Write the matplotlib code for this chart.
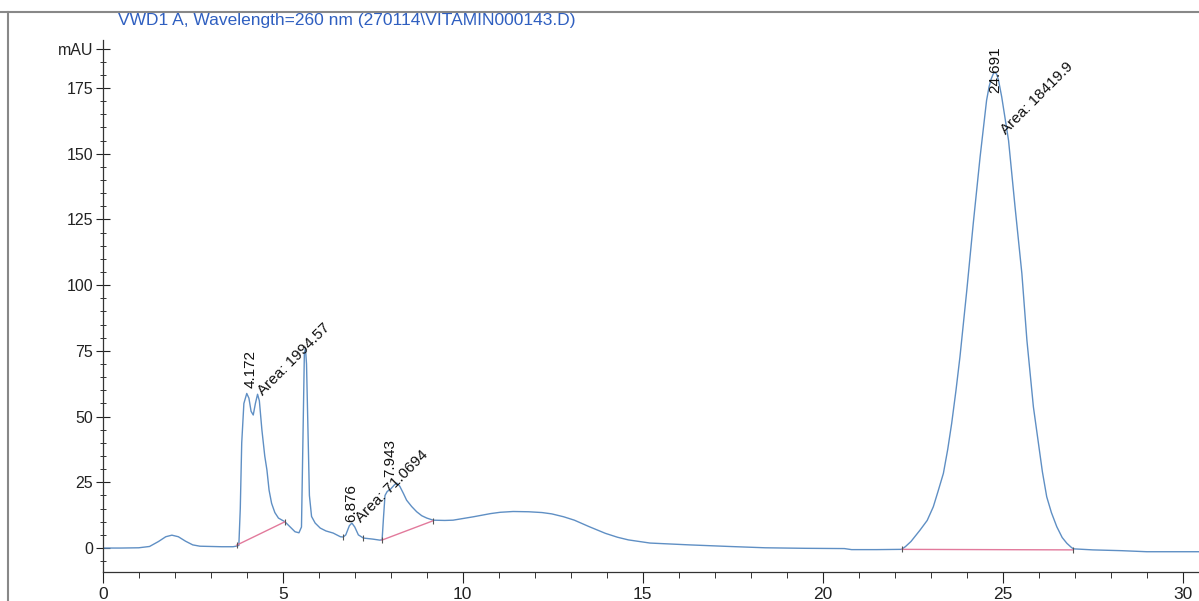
import matplotlib.pyplot as plt
from matplotlib.lines import Line2D

plt.rcParams['font.family'] = ['Liberation Sans', 'DejaVu Sans']

# retention time (min) and signal (mAU)
time = [0.0, 0.5, 1.0, 1.3, 1.55, 1.75, 1.92, 2.1, 2.3, 2.5, 2.7, 3.0, 3.3, 3.62, 3.7, 3.78,
        3.82, 3.86, 3.92, 4.0, 4.06, 4.12, 4.18, 4.24, 4.3, 4.35, 4.42, 4.5, 4.56, 4.62,
        4.69, 4.78, 4.88, 5.06, 5.2, 5.34, 5.45, 5.52, 5.56, 5.6, 5.63, 5.66, 5.7, 5.74,
        5.8, 5.9, 6.04, 6.2, 6.4, 6.6, 6.68, 6.75, 6.85, 6.92, 7.0, 7.1, 7.24, 7.5, 7.7,
        7.76, 7.8, 7.84, 7.9, 8.0, 8.1, 8.17, 8.25, 8.35, 8.44, 8.58, 8.72, 8.86, 9.0,
        9.18, 9.5, 9.73, 9.9, 10.3, 10.77, 11.04, 11.4, 11.83, 12.2, 12.47, 12.8, 13.1,
        13.5, 13.96, 14.3, 14.6, 15.2, 15.8, 16.3, 17.4, 18.4, 19.5, 20.6, 20.8, 21.5,
        22.19, 22.3, 22.45, 22.55, 22.7, 22.9, 23.07, 23.2, 23.35, 23.47, 23.58, 23.7,
        23.81, 24.0, 24.18, 24.37, 24.55, 24.62, 24.68, 24.74, 24.78, 24.83, 24.88, 24.97,
        25.16, 25.34, 25.53, 25.67, 25.85, 26.04, 26.1, 26.22, 26.35, 26.5, 26.65,
        26.78, 26.9, 26.96, 27.5, 28.3, 29.0, 30.45]
signal = [0.0, 0.0, 0.1, 0.6, 2.5, 4.3, 4.9, 4.3, 2.6, 1.2, 0.7, 0.6, 0.5, 0.5, 0.7, 1.0,
          15, 40, 55, 58.8, 57, 52, 50.6, 55, 58.5, 56, 45, 35, 29.7, 22,
          17, 13.5, 11.4, 10, 8.1, 6.2, 5.8, 8, 40, 74, 76, 70, 45, 20,
          12, 9.5, 7.6, 6.5, 5.7, 4.3, 4.2, 5, 8.5, 9.5, 8, 5, 3.8, 3.4, 3.0,
          3.2, 12, 20, 21.5, 22.5, 24, 24.7, 23.5, 20.8, 18.2, 15.8, 13.8, 12.3, 11.4,
          10.6, 10.5, 10.6, 11.0, 11.9, 13.1, 13.6, 13.9, 13.8, 13.5, 13.0, 11.9, 10.6,
          8.2, 5.6, 4.1, 3.1, 1.9, 1.5, 1.2, 0.6, 0.1, -0.1, -0.2, -0.6, -0.6,
          -0.5, 0.6, 2.5, 4.2, 6.8, 10.5, 15.7, 21.5, 28.4, 37.5, 47.4, 60,
          72.7, 98, 123.5, 148.8, 170.3, 175.5, 178.5, 180.5, 181, 180.2, 178, 171.6,
          155, 129.8, 104.4, 79, 53.7, 34.7, 29, 19.5, 13.5, 8.1, 4,
          1.8, 0.3, -0.3, -0.7, -1.0, -1.4, -1.4]

# integration baselines (start, end)
base_t = [(3.72, 5.06), (7.75, 9.18), (22.2, 26.96)]
base_v = [(1.1, 10.0), (3.0, 10.4), (-0.5, -0.7)]
bound_t = [3.72, 5.06, 6.68, 7.24, 7.75, 9.18, 22.2, 26.96]
bound_v = [1.1, 10.0, 4.2, 3.8, 3.0, 10.4, -0.5, -0.7]

rt_labels = ["4.172", "6.876", "7.943", "24.691"]
rt_pos = [(4.1, 61), (6.9, 10), (7.98, 27), (24.8, 173)]
area_labels = ["Area: 1994.57", "Area: 71.0694", "Area: 18419.9"]
area_pos = [(4.37, 59), (7.1, 10.6), (25.0, 158)]

fig = plt.figure(figsize=(11.99, 6.01), dpi=100)
ax = fig.add_axes([0.0857, 0.0483, 0.9143, 0.885])

ax.plot(time, signal, color='#5f8fc4', lw=1.0)
for bt, bv in zip(base_t, base_v):
    ax.plot(bt, bv, color='#e27a9c', lw=1.0)
ax.plot(bound_t, bound_v, ls='none', marker='|', ms=5, color='#555555', mew=0.8)

for lab, (x, y) in zip(rt_labels, rt_pos):
    ax.text(x, y, lab, rotation=90, rotation_mode='anchor', ha='left', va='center',
            fontsize=11, color='#111111')
for lab, (x, y) in zip(area_labels, area_pos):
    ax.text(x, y, lab, rotation=45, rotation_mode='anchor', ha='left', va='center',
            fontsize=11, color='#111111')

ax.set_xlim(0, 30.45)
ax.set_ylim(-9.1, 193.2)
ax.set_xticks([0, 5, 10, 15, 20, 25, 30])
ax.set_xticks(range(0, 31), minor=True)
yt = [0, 25, 50, 75, 100, 125, 150, 175, 190]
ax.set_yticks(yt)
ax.set_yticklabels([str(v) for v in yt[:-1]] + ['mAU'])
ax.get_yticklabels()[-1].set_fontsize(8.5)
ax.set_yticks(range(-5, 191, 5), minor=True)

for s in ['top', 'right']:
    ax.spines[s].set_visible(False)
for s in ['left', 'bottom']:
    ax.spines[s].set_color('#333333')
    ax.spines[s].set_linewidth(0.9)

ax.tick_params(axis='x', which='major', direction='out', length=8, width=0.8,
               colors='#222222', labelsize=12.5, pad=3)
ax.tick_params(axis='x', which='minor', direction='out', length=4, width=0.7, colors='#333333')
ax.tick_params(axis='y', which='major', direction='inout', length=10, width=0.8,
               colors='#222222', labelsize=11.5, pad=2)
ax.tick_params(axis='y', which='minor', direction='inout', length=5, width=0.7, colors='#333333')

fig.text(118 / 1199, 1 - 20 / 601, r"VWD1 A, Wavelength=260 nm (270114\VITAMIN000143.D)",
         ha='left', va='center', fontsize=12.5, color='#2f5fc0')

# scanned page frame
fig.add_artist(Line2D([0, 1], [1 - 12 / 601, 1 - 12 / 601], color='#888888', lw=1.5))
fig.add_artist(Line2D([8 / 1199, 8 / 1199], [0, 1 - 12 / 601], color='#888888', lw=1.5))

fig.savefig('out.png', dpi=100)
